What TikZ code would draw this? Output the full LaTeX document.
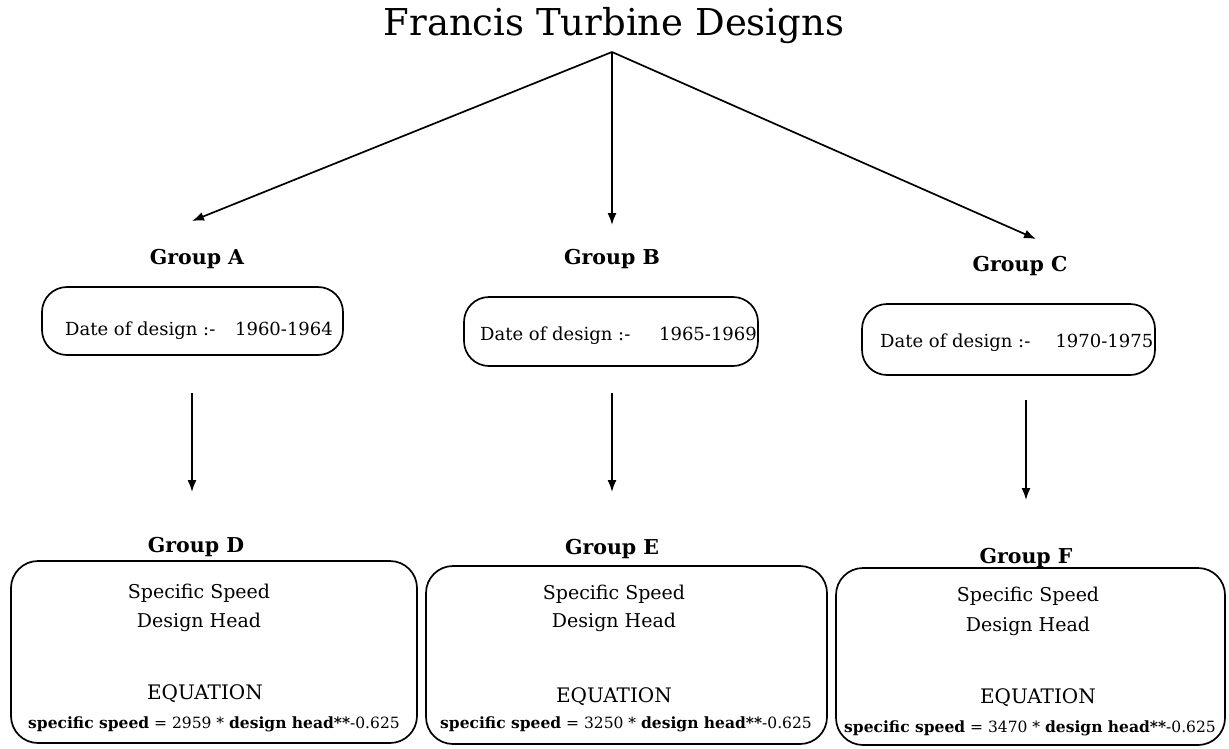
\documentclass[tikz,border=0pt]{standalone}
\usepackage{fontspec}
\setmainfont{DejaVu Serif}
\usetikzlibrary{arrows.meta}
\begin{document}
\begin{tikzpicture}[x=1pt,y=-1pt,
  ttl/.style={font=\fontsize{37}{42}\selectfont, inner sep=0pt, anchor=base},
  grp/.style={font=\bfseries\fontsize{20.5}{24}\selectfont, inner sep=0pt, anchor=base},
  datebox/.style={draw, line width=1.7pt, rounded corners=25pt, inner sep=0pt},
  datetxt/.style={font=\fontsize{18}{22}\selectfont, inner sep=0pt, anchor=base west},
  eqbox/.style={draw, line width=1.7pt, rounded corners=27pt, inner sep=0pt},
  lbl/.style={font=\fontsize{19}{23}\selectfont, inner sep=0pt, anchor=base},
  eqh/.style={font=\fontsize{20}{24}\selectfont, inner sep=0pt, anchor=base},
  eqn/.style={font=\fontsize{15.5}{18}\selectfont, inner sep=0pt, anchor=base},
  arr/.style={line width=1.7pt, -{Latex[length=12pt,width=9pt]}},
]
\useasboundingbox (0,0) rectangle (1229,748);

% title and the three branches
\node[ttl] (title) at (614,35) {Francis Turbine Designs};
\coordinate (apex) at (612,52);
\coordinate (tA) at (192,221);
\coordinate (tB) at (612,225);
\coordinate (tC) at (1036,239);
\draw[arr] (apex) -- (tA);
\draw[arr] (apex) -- (tB);
\draw[arr] (apex) -- (tC);

% upper groups
\node[grp] (gA) at (197,264) {Group A};
\node[grp] (gB) at (612,264) {Group B};
\node[grp] (gC) at (1020,271) {Group C};

\node[datebox, minimum width=301pt, minimum height=68pt] (dA) at (192.5,321) {};
\node[datebox, minimum width=294pt, minimum height=69pt] (dB) at (611,331.5) {};
\node[datebox, minimum width=293pt, minimum height=71pt] (dC) at (1008.5,339.5) {};
\node[datetxt] (xA) at (65,335) {Date of design :-\hspace{1.1em}1960-1964};
\node[datetxt] (xB) at (480,340) {Date of design :-\hspace{1.6em}1965-1969};
\node[datetxt] (xC) at (880,347) {Date of design :-\hspace{1.4em}1970-1975};

% downward links
\coordinate (sD) at (192,393);
\coordinate (tD) at (192,492);
\coordinate (sE) at (612,393);
\coordinate (tE) at (612,492);
\coordinate (sF) at (1026,400);
\coordinate (tF) at (1026,500);
\draw[arr] (sD) -- (tD);
\draw[arr] (sE) -- (tE);
\draw[arr] (sF) -- (tF);

% lower groups
\node[grp] (gD) at (196,552) {Group D};
\node[grp] (gE) at (612,554) {Group E};
\node[grp] (gF) at (1026,563) {Group F};

\node[eqbox, minimum width=406pt, minimum height=182pt] (bD) at (214,652) {};
\node[eqbox, minimum width=401pt, minimum height=178pt] (bE) at (626.5,655) {};
\node[eqbox, minimum width=389pt, minimum height=177pt] (bF) at (1030.5,656.5) {};

\node[lbl] (ssD) at (199,598) {Specific Speed};
\node[lbl] (dhD) at (199,627) {Design Head};
\node[eqh] (eqD) at (205,699) {EQUATION};
\node[eqn] (fD) at (214,728) {\textbf{specific speed} = 2959 * \textbf{design head**}-0.625};

\node[lbl] (ssE) at (614,599) {Specific Speed};
\node[lbl] (dhE) at (614,627) {Design Head};
\node[eqh] (eqE) at (614,702) {EQUATION};
\node[eqn] (fE) at (626,728) {\textbf{specific speed} = 3250 * \textbf{design head**}-0.625};

\node[lbl] (ssF) at (1028,601) {Specific Speed};
\node[lbl] (dhF) at (1028,631) {Design Head};
\node[eqh] (eqF) at (1038,703) {EQUATION};
\node[eqn] (fF) at (1030,732) {\textbf{specific speed} = 3470 * \textbf{design head**}-0.625};
\end{tikzpicture}
\end{document}
